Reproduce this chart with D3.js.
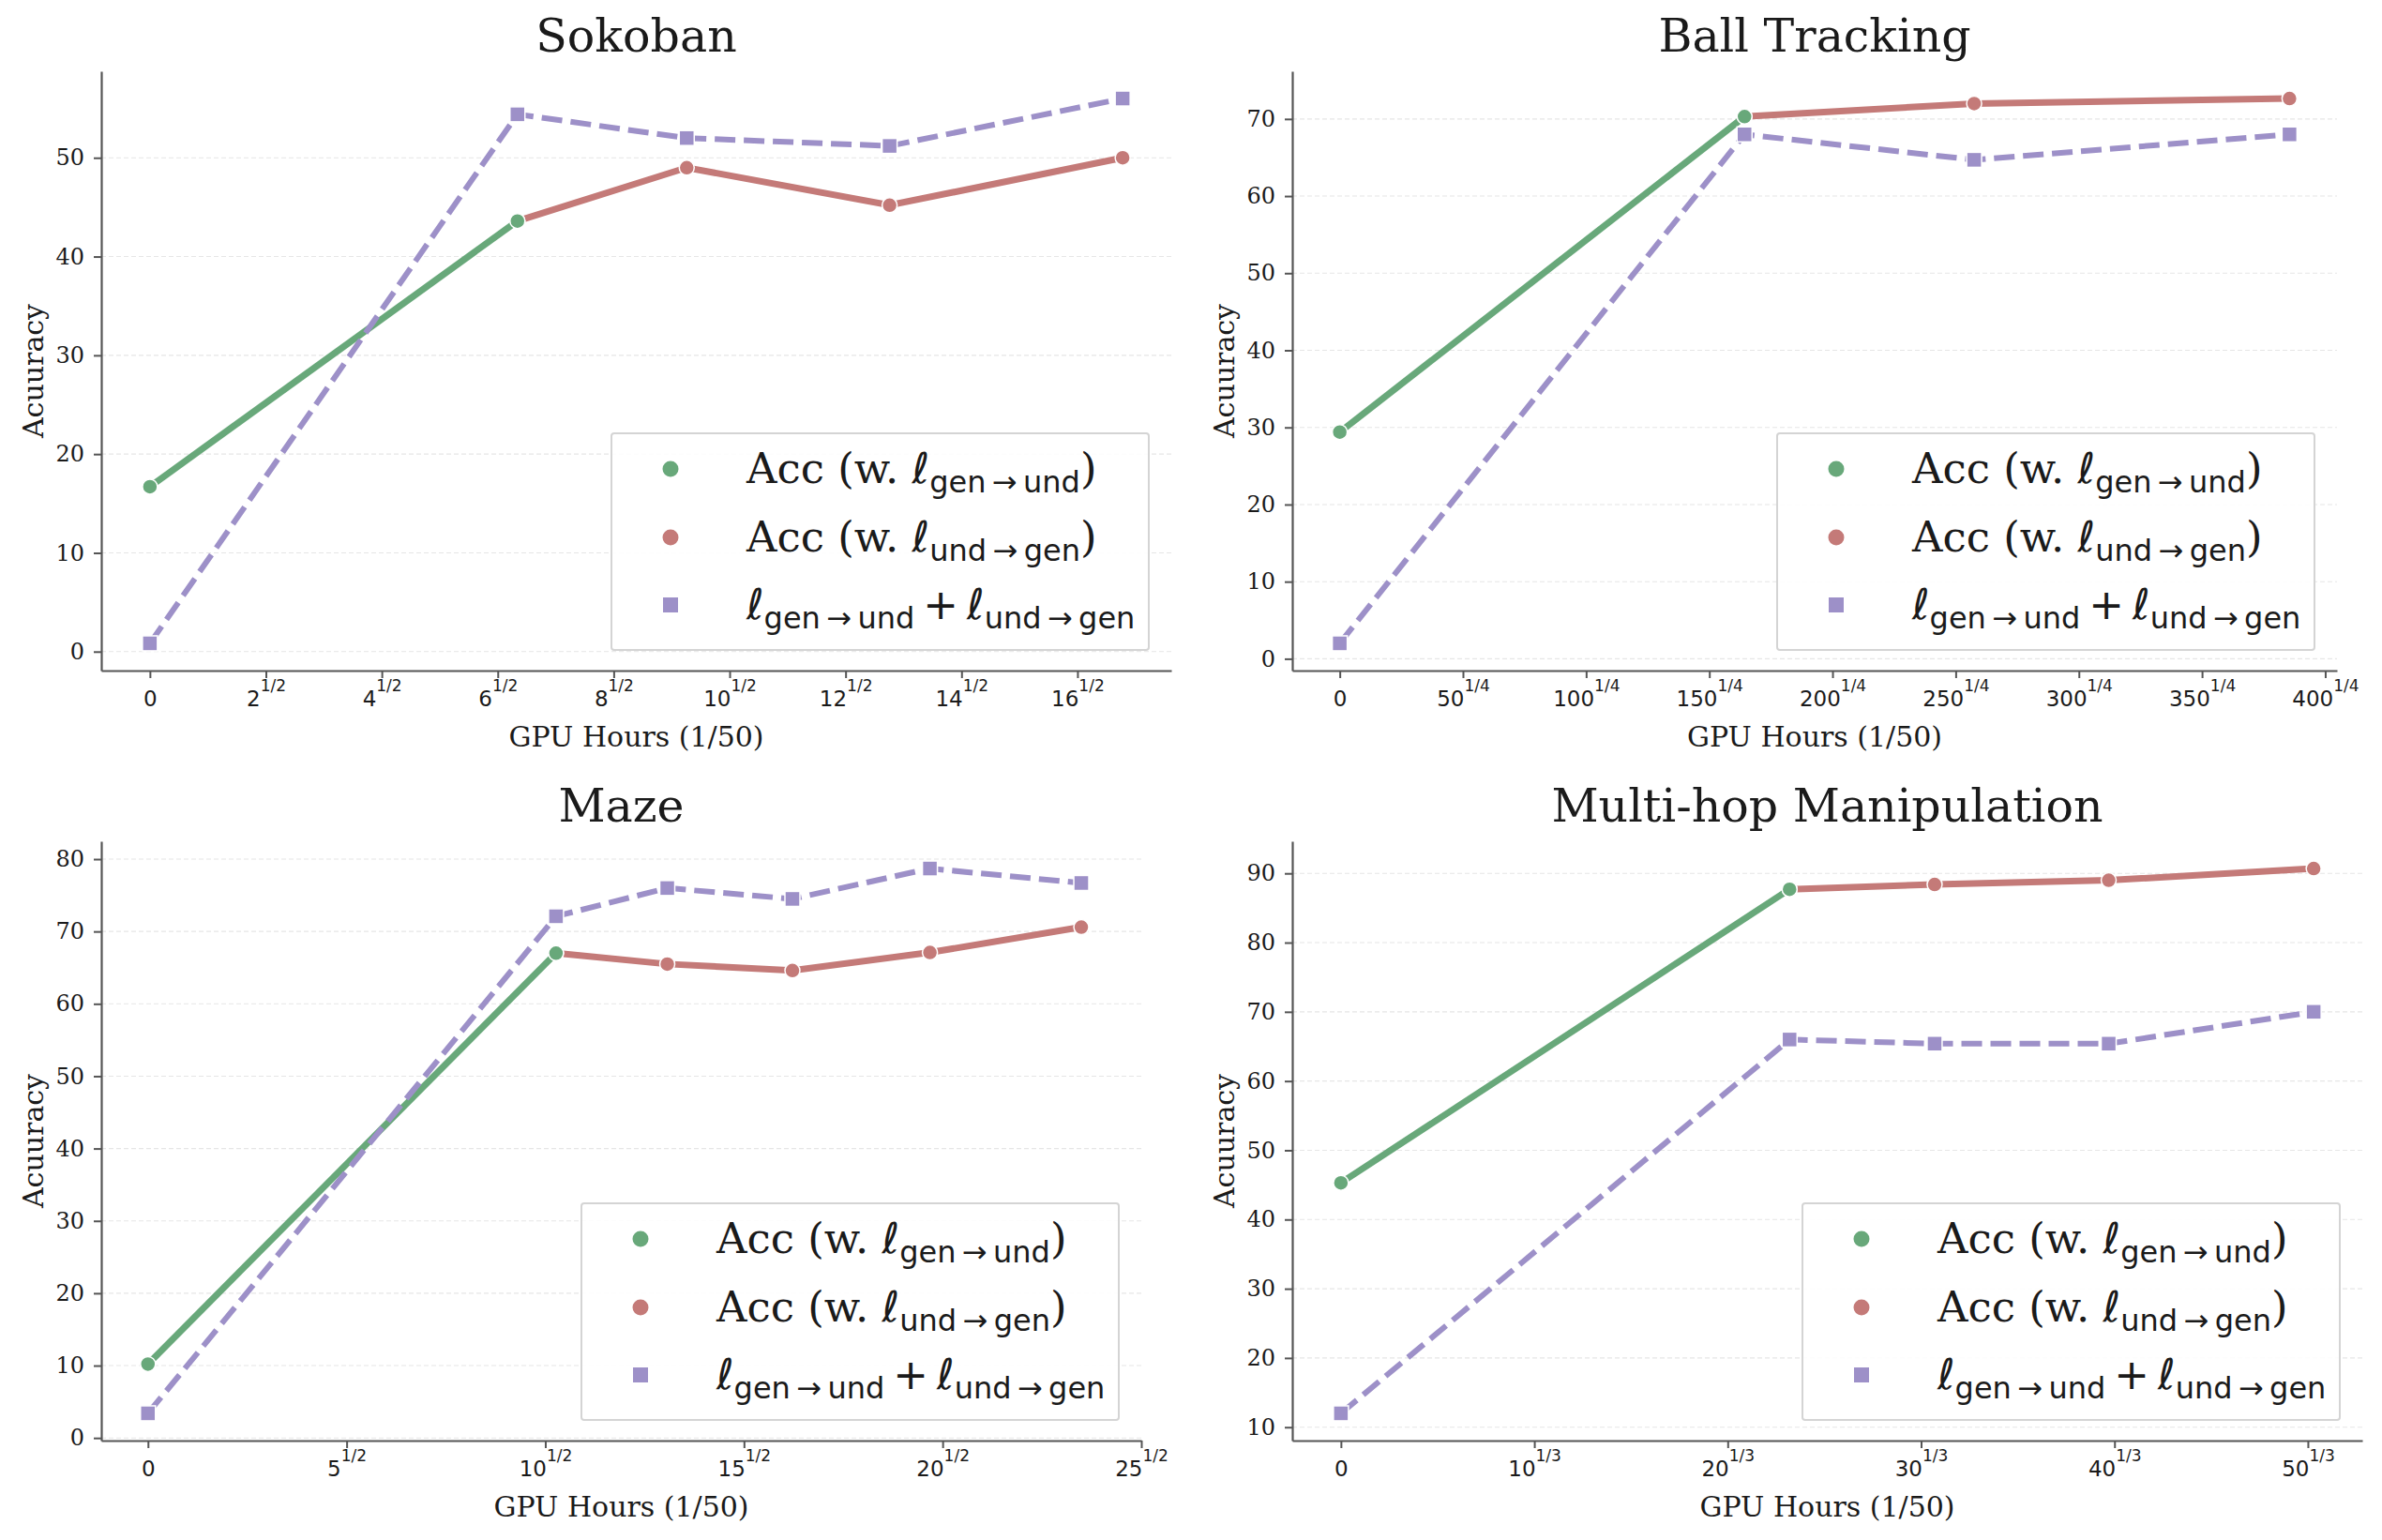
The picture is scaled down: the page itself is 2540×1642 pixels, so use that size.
<!DOCTYPE html>
<html><head><meta charset="utf-8">
<script src="https://cdn.jsdelivr.net/npm/d3@7"></script>
<style>body{margin:0;background:#fff;} svg{display:block;}</style>
</head><body>
<svg id="chart" width="2540" height="1642"></svg>
<script>
// ---------------- data ----------------
// x values are in the units of the tick labels (tick v is labelled v^{exp})
const sokobanX      = [0, 6.34, 9.26, 12.76, 16.78];
const sokobanGenUnd = [16.7, 43.6];                 // at sokobanX[0..1]
const sokobanUndGen = [43.6, 49.0, 45.2, 50.0];     // at sokobanX[1..]
const sokobanLoss   = [0.84, 54.4, 52.0, 51.2, 56.0];
const sokobanTicks  = [0, 2, 4, 6, 8, 10, 12, 14, 16];

const ballX      = [0, 164.3, 257.5, 385.5];
const ballGenUnd = [29.4, 70.3];
const ballUndGen = [70.3, 72.0, 72.65];
const ballLoss   = [2.0, 68.0, 64.7, 68.0];
const ballTicks  = [0, 50, 100, 150, 200, 250, 300, 350, 400];

const mazeX      = [0, 10.27, 13.07, 16.22, 19.68, 23.49];
const mazeGenUnd = [10.2, 67.0];
const mazeUndGen = [67.0, 65.5, 64.6, 67.1, 70.6];
const mazeLoss   = [3.4, 72.1, 76.0, 74.5, 78.7, 76.7];
const mazeTicks  = [0, 5, 10, 15, 20, 25];

const multiX      = [0, 23.2, 30.7, 39.7, 50.3];
const multiGenUnd = [45.3, 87.7];
const multiUndGen = [87.7, 88.4, 89.0, 90.7];
const multiLoss   = [12.0, 66.0, 65.4, 65.4, 70.0];
const multiTicks  = [0, 10, 20, 30, 40, 50];

const titles = ["Sokoban", "Ball Tracking", "Maze", "Multi-hop Manipulation"];
const exponents = ["1/2", "1/4", "1/2", "1/3"];
const xLabel = "GPU Hours (1/50)";
const yLabel = "Acuuracy";

// ---------------- styling / layout ----------------
const SERIF = "'DejaVu Serif', serif";
const SANS = "'DejaVu Sans', sans-serif";
const C_GREEN = "#68a87a", C_RED = "#c47a78", C_PURPLE = "#9d90c8";
const AXIS_C = "#555";
const TEXT_C = "#1a1a1a";

const panels = [
  {title: titles[0], x: sokobanX, gen: sokobanGenUnd, und: sokobanUndGen, loss: sokobanLoss, ticks: sokobanTicks, exp: exponents[0],
   box: {l: 108, r: 1249, t: 76, b: 715}},
  {title: titles[1], x: ballX, gen: ballGenUnd, und: ballUndGen, loss: ballLoss, ticks: ballTicks, exp: exponents[1],
   box: {l: 1378, r: 2492, t: 76, b: 715}},
  {title: titles[2], x: mazeX, gen: mazeGenUnd, und: mazeUndGen, loss: mazeLoss, ticks: mazeTicks, exp: exponents[2],
   box: {l: 108, r: 1217, t: 897, b: 1536}, xMaxOverride: 25},
  {title: titles[3], x: multiX, gen: multiGenUnd, und: multiUndGen, loss: multiLoss, ticks: multiTicks, exp: exponents[3],
   box: {l: 1378, r: 2519, t: 897, b: 1536}}
];

const svg = d3.select("#chart");
svg.append("rect").attr("width", 2540).attr("height", 1642).attr("fill", "#fff");

function margin(lo, hi) { const m = (hi - lo) * 0.05; return [lo - m, hi + m]; }

panels.forEach(p => {
  const {l, r, t, b} = p.box;
  const xe = d3.extent(p.x);
  let xDom = margin(xe[0], xe[1]);
  if (p.xMaxOverride) xDom[1] = p.xMaxOverride;
  const allY = p.gen.concat(p.und, p.loss);
  const yDom = margin(d3.min(allY), d3.max(allY));
  const x = d3.scaleLinear().domain(xDom).range([l, r]);
  const y = d3.scaleLinear().domain(yDom).range([b, t]);
  const g = svg.append("g");

  const yTicks = d3.range(Math.ceil(yDom[0] / 10) * 10, yDom[1], 10);

  // grid
  g.append("g").selectAll("line").data(yTicks).join("line")
    .attr("x1", l).attr("x2", r).attr("y1", d => y(d)).attr("y2", d => y(d))
    .attr("stroke", "#e6e6e6").attr("stroke-width", 1.1).attr("stroke-dasharray", "5,3");

  // axes
  const yAxis = d3.axisLeft(y).tickValues(yTicks).tickFormat(d3.format("d")).tickSize(8).tickSizeOuter(0).tickPadding(10);
  const ya = g.append("g").attr("transform", `translate(${l},0)`).call(yAxis);
  ya.select(".domain").attr("stroke", AXIS_C).attr("stroke-width", 2.2);
  ya.selectAll(".tick line").attr("stroke", AXIS_C).attr("stroke-width", 2);
  ya.selectAll(".tick text").attr("font-family", SERIF).attr("font-size", 24).attr("fill", TEXT_C);

  const xAxis = d3.axisBottom(x).tickValues(p.ticks).tickFormat("").tickSize(8).tickSizeOuter(0);
  const xa = g.append("g").attr("transform", `translate(0,${b})`).call(xAxis);
  xa.select(".domain").attr("stroke", AXIS_C).attr("stroke-width", 2.2);
  xa.selectAll(".tick line").attr("stroke", AXIS_C).attr("stroke-width", 2);
  xa.selectAll(".tick text").each(function(d) {
    const tx = d3.select(this).text(null).attr("y", 38).attr("dy", null)
      .attr("font-family", SANS).attr("font-size", 23).attr("fill", TEXT_C).attr("text-anchor", "middle");
    tx.append("tspan").text(String(d));
    if (d !== 0) tx.append("tspan").attr("dy", -16).attr("font-size", 17).text(p.exp);
  });

  // title & labels
  g.append("text").attr("x", (l + r) / 2).attr("y", t - 21).attr("text-anchor", "middle")
    .attr("font-family", SERIF).attr("font-size", 49).attr("fill", TEXT_C).text(p.title);
  g.append("text").attr("x", (l + r) / 2).attr("y", b + 81).attr("text-anchor", "middle")
    .attr("font-family", SERIF).attr("font-size", 30).attr("fill", TEXT_C).text(xLabel);
  g.append("text").attr("transform", `translate(${l - 62},${(t + b) / 2}) rotate(-90)`).attr("text-anchor", "middle")
    .attr("font-family", SERIF).attr("font-size", 30).attr("fill", TEXT_C).text(yLabel);

  // series
  const genPts = p.gen.map((v, i) => [p.x[i], v]);
  const undPts = p.und.map((v, i) => [p.x[i + 1], v]);
  const lossPts = p.loss.map((v, i) => [p.x[i], v]);
  const line = d3.line().x(d => x(d[0])).y(d => y(d[1]));

  g.append("path").datum(undPts).attr("d", line).attr("fill", "none")
    .attr("stroke", C_RED).attr("stroke-width", 7);
  g.append("g").selectAll("circle").data(undPts).join("circle")
    .attr("cx", d => x(d[0])).attr("cy", d => y(d[1])).attr("r", 8)
    .attr("fill", C_RED).attr("stroke", "#fff").attr("stroke-width", 1.5);

  g.append("path").datum(genPts).attr("d", line).attr("fill", "none")
    .attr("stroke", C_GREEN).attr("stroke-width", 7);
  g.append("g").selectAll("circle").data(genPts).join("circle")
    .attr("cx", d => x(d[0])).attr("cy", d => y(d[1])).attr("r", 8)
    .attr("fill", C_GREEN).attr("stroke", "#fff").attr("stroke-width", 1.5);

  g.append("path").datum(lossPts).attr("d", line).attr("fill", "none")
    .attr("stroke", C_PURPLE).attr("stroke-width", 6).attr("stroke-dasharray", "22,9");
  g.append("g").selectAll("rect").data(lossPts).join("rect")
    .attr("x", d => x(d[0]) - 8).attr("y", d => y(d[1]) - 8).attr("width", 16).attr("height", 16)
    .attr("fill", C_PURPLE).attr("stroke", "#fff").attr("stroke-width", 1.5);

  // legend
  const LW = 573, LH = 231;
  const lx = r - 24 - LW, ly = b - 22 - LH;
  const lg = g.append("g").attr("transform", `translate(${lx},${ly})`);
  lg.append("rect").attr("width", LW).attr("height", LH).attr("rx", 3)
    .attr("fill", "#fff").attr("fill-opacity", 0.9).attr("stroke", "#d4d4d4").attr("stroke-width", 2);
  const rows = [
    {color: C_GREEN, shape: "circle", parts: [["Acc (w. ", "serif"], ["ℓ", "ell"], ["gen\u2009→\u2009und", "sub"], [")", "serifUp"]]},
    {color: C_RED, shape: "circle", parts: [["Acc (w. ", "serif"], ["ℓ", "ell"], ["und\u2009→\u2009gen", "sub"], [")", "serifUp"]]},
    {color: C_PURPLE, shape: "square", parts: [["ℓ", "ell"], ["gen\u2009→\u2009und", "sub"], ["\u2009+\u2009", "plus"], ["ℓ", "ell"], ["und\u2009→\u2009gen", "sub"]]}
  ];
  const rowY = [38, 111, 183];
  rows.forEach((row, i) => {
    const cy = rowY[i];
    if (row.shape === "circle") {
      lg.append("circle").attr("cx", 63).attr("cy", cy).attr("r", 8.5).attr("fill", row.color);
    } else {
      lg.append("rect").attr("x", 55).attr("y", cy - 8).attr("width", 16).attr("height", 16).attr("fill", row.color);
    }
    const tx = lg.append("text").attr("x", 144).attr("y", cy + 15).attr("fill", TEXT_C).attr("font-size", 45);
    let shifted = false;
    row.parts.forEach(([s, kind]) => {
      const ts = tx.append("tspan").text(s);
      if (kind === "serif") ts.attr("font-family", SERIF);
      if (kind === "serifUp") { ts.attr("font-family", SERIF); if (shifted) { ts.attr("dy", -10); shifted = false; } }
      if (kind === "plus") { ts.attr("font-family", SANS); if (shifted) { ts.attr("dy", -10); shifted = false; } }
      if (kind === "ell") { ts.attr("font-family", SANS).attr("font-style", "italic"); if (shifted) { ts.attr("dy", -10); shifted = false; } }
      if (kind === "sub") { ts.attr("font-family", SANS).attr("font-size", 32).attr("dy", 10); shifted = true; }
    });
  });
});
</script>
</body></html>
